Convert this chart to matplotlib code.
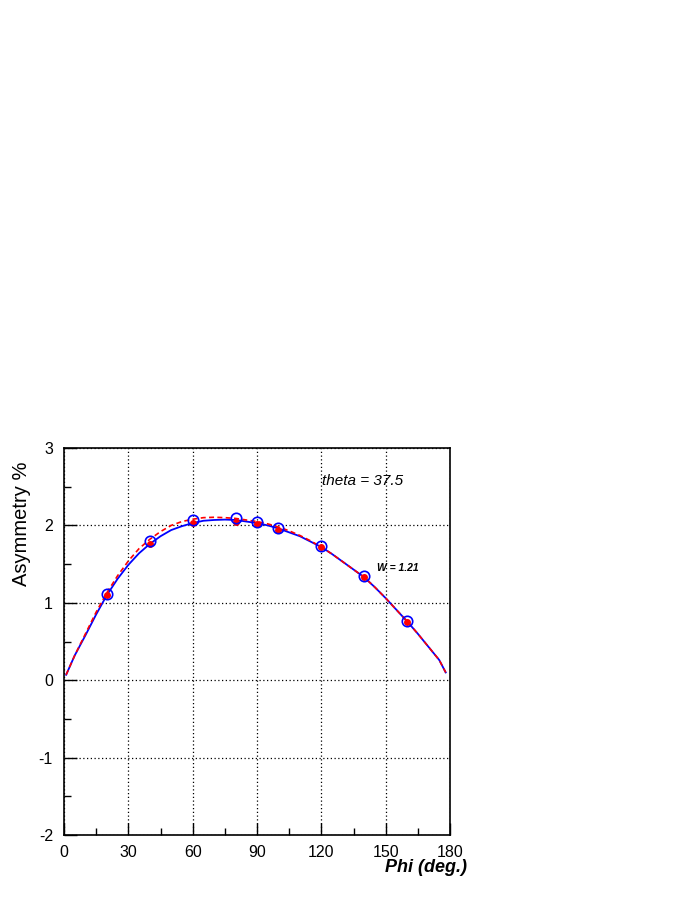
import matplotlib
matplotlib.use('Agg')
import matplotlib.pyplot as plt
from matplotlib.ticker import MultipleLocator

plt.rcParams['font.family'] = ['Liberation Sans', 'DejaVu Sans']
plt.rcParams['axes.unicode_minus'] = False

# measured points (phi in degrees, asymmetry in %)
phi_pts = [20, 40, 60, 80, 90, 100, 120, 140, 160]
asym_blue = [1.12, 1.80, 2.07, 2.09, 2.04, 1.97, 1.73, 1.34, 0.76]
asym_red = [1.095, 1.76, 2.03, 2.05, 2.02, 1.94, 1.72, 1.33, 0.75]

# fitted curves
phi_curve = [1, 5, 10, 15, 20, 25, 30, 35, 40, 45, 50, 55, 60, 65, 70, 75, 80, 85,
             90, 95, 100, 105, 110, 115, 120, 125, 130, 135, 140, 145, 150, 155,
             160, 165, 170, 175, 178]
fit_blue = [0.07, 0.32, 0.58, 0.85, 1.10, 1.31, 1.49, 1.64, 1.76, 1.86, 1.94, 1.99,
            2.03, 2.06, 2.07, 2.075, 2.07, 2.05, 2.03, 2.00, 1.96, 1.91, 1.86, 1.79,
            1.72, 1.63, 1.53, 1.43, 1.33, 1.20, 1.06, 0.91, 0.76, 0.60, 0.43, 0.26, 0.10]
fit_red = [0.07, 0.32, 0.60, 0.88, 1.13, 1.35, 1.54, 1.70, 1.82, 1.92, 2.00, 2.05,
           2.08, 2.10, 2.105, 2.10, 2.09, 2.07, 2.05, 2.02, 1.98, 1.93, 1.87, 1.80,
           1.72, 1.63, 1.53, 1.43, 1.33, 1.20, 1.06, 0.91, 0.76, 0.60, 0.43, 0.26, 0.10]

fig = plt.figure(figsize=(6.95, 9.0), dpi=100)
ax = fig.add_axes([64 / 695, 1 - 835 / 900, 386 / 695, 387 / 900])

ax.plot(phi_curve, fit_blue, color='blue', lw=1.3, zorder=3)
ax.plot(phi_curve, fit_red, color='red', lw=1.2, ls=(0, (3, 2)), zorder=4)
ax.plot(phi_pts, asym_red, 'o', color='red', ms=4, zorder=5)
ax.plot(phi_pts, asym_blue, 'o', mfc='none', mec='blue', mew=1.2, ms=7.5, zorder=6)

ax.set_xlim(0, 180)
ax.set_ylim(-2, 3)
ax.xaxis.set_major_locator(MultipleLocator(30))
ax.xaxis.set_minor_locator(MultipleLocator(15))
ax.yaxis.set_major_locator(MultipleLocator(1))
ax.yaxis.set_minor_locator(MultipleLocator(0.5))
ax.grid(True, which='major', color='black', ls=(0, (1, 2)), lw=0.9)
ax.tick_params(which='major', direction='in', length=9, width=1, labelsize=11.5)
ax.tick_params(axis='x', which='major', pad=7)
ax.tick_params(axis='y', which='major', pad=8)
ax.tick_params(which='minor', direction='in', length=5, width=1)
for s in ax.spines.values():
    s.set_linewidth(1.2)

fig.text(22 / 695, 1 - 462 / 900, 'Asymmetry %', rotation=90, ha='center', va='top',
         fontsize=14.5)
fig.text(467 / 695, 1 - 868 / 900, 'Phi (deg.)', ha='right', va='center',
         fontsize=13, fontweight='bold', fontstyle='italic')
fig.text(322 / 695, 1 - 481 / 900, 'theta = 37.5', ha='left', va='center',
         fontsize=11, fontstyle='italic')
fig.text(377 / 695, 1 - 568 / 900, 'W = 1.21', ha='left', va='center',
         fontsize=7.5, fontweight='bold', fontstyle='italic')

fig.savefig('out.png', dpi=100)
